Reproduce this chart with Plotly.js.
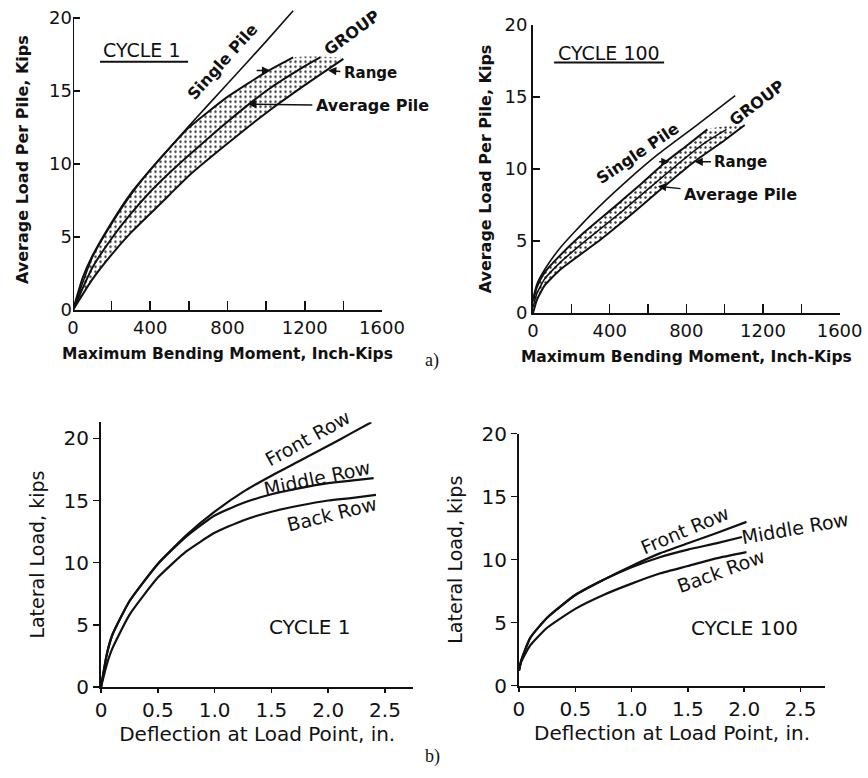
<!DOCTYPE html>
<html>
<head>
<meta charset="utf-8">
<script src="https://cdn.plot.ly/plotly-3.0.1.min.js"></script>
<style>html,body{margin:0;padding:0;background:#fff;}#chart{width:868px;height:778px;}</style>
</head>
<body>
<div id="chart"></div>
<script>
// ---------- Data: a) Maximum bending moment vs average load per pile ----------
// Cycle 1
var c1SingleX = [0, 100, 200, 300, 400, 500, 600, 800, 1000, 1140];
var c1SingleY = [0, 3.6, 5.9, 7.9, 9.6, 11.1, 12.6, 15.5, 18.4, 20.5];
var c1UpperX  = [0, 50, 100, 200, 300, 400, 500, 600, 800, 1000, 1140];
var c1UpperY  = [0, 2.2, 3.7, 6.0, 8.0, 9.6, 11.1, 12.5, 14.6, 16.3, 17.3];
var c1AvgX    = [0, 100, 200, 300, 400, 500, 600, 800, 1000, 1200, 1280];
var c1AvgY    = [0, 2.9, 4.9, 6.6, 8.1, 9.4, 10.6, 12.9, 15.0, 16.7, 17.3];
var c1LowerX  = [0, 100, 200, 300, 400, 500, 600, 800, 1000, 1200, 1400];
var c1LowerY  = [0, 2.1, 3.8, 5.3, 6.6, 7.9, 9.2, 11.4, 13.5, 15.4, 17.2];
// Cycle 100
var c100SingleX = [0, 20, 60, 140, 300, 500, 650, 850, 1055];
var c100SingleY = [1.0, 2.0, 3.0, 4.5, 6.8, 9.3, 11.0, 13.0, 15.1];
var c100UpperX  = [0, 20, 60, 141, 250, 419, 550, 698, 800, 910];
var c100UpperY  = [0.8, 1.8, 2.8, 4.0, 5.4, 7.3, 8.8, 10.55, 11.6, 12.75];
var c100AvgX    = [0, 20, 60, 141, 300, 450, 600, 770, 900, 1010];
var c100AvgY    = [0.4, 1.35, 2.35, 3.5, 5.3, 6.9, 8.6, 10.5, 11.85, 12.75];
var c100LowerX  = [0, 20, 60, 141, 353, 500, 650, 846, 1000, 1105];
var c100LowerY  = [0, 0.9, 1.9, 3.0, 5.1, 6.7, 8.4, 10.55, 12.0, 13.05];

// ---------- Data: b) Deflection at load point vs lateral load ----------
// Cycle 1
var d1FrontX  = [0, 0.05, 0.1, 0.25, 0.5, 0.75, 1.0, 1.25, 1.5, 1.75, 2.0, 2.2, 2.38];
var d1FrontY  = [0, 2.6, 4.2, 6.9, 9.9, 12.2, 14.1, 15.7, 17.0, 18.2, 19.4, 20.4, 21.3];
var d1MiddleX = [0, 0.05, 0.1, 0.25, 0.5, 0.75, 1.0, 1.25, 1.5, 1.75, 2.0, 2.2, 2.4];
var d1MiddleY = [0, 2.6, 4.2, 6.9, 9.9, 12.1, 13.8, 14.8, 15.5, 16.0, 16.4, 16.6, 16.8];
var d1BackX   = [0, 0.05, 0.1, 0.25, 0.5, 0.75, 1.0, 1.25, 1.5, 1.75, 2.0, 2.2, 2.42];
var d1BackY   = [0, 1.8, 3.1, 5.8, 8.8, 10.9, 12.4, 13.4, 14.1, 14.6, 15.0, 15.2, 15.45];
// Cycle 100
var d100FrontX  = [0, 0.02, 0.1, 0.25, 0.5, 0.75, 1.0, 1.25, 1.5, 1.75, 2.02];
var d100FrontY  = [1.2, 2.0, 3.8, 5.4, 7.2, 8.4, 9.5, 10.5, 11.3, 12.1, 13.0];
var d100MiddleX = [0, 0.02, 0.1, 0.25, 0.5, 0.75, 1.0, 1.25, 1.5, 1.75, 1.98];
var d100MiddleY = [1.2, 2.0, 3.8, 5.4, 7.2, 8.4, 9.4, 10.2, 10.8, 11.3, 11.8];
var d100BackX   = [0, 0.02, 0.1, 0.25, 0.5, 0.75, 1.0, 1.25, 1.5, 1.75, 2.02];
var d100BackY   = [1.2, 1.9, 3.2, 4.6, 6.1, 7.2, 8.1, 8.9, 9.5, 10.1, 10.6];

// ---------- Tick labels ----------
var momentTicks = [0, 400, 800, 1200, 1600];
var loadTicks = [0, 5, 10, 15, 20];
var deflTicks = [0, 0.5, 1, 1.5, 2, 2.5];
var deflTickText = ['0', '0.5', '1.0', '1.5', '2.0', '2.5'];

// ---------- Text ----------
var momentTitle = 'Maximum Bending Moment, Inch-Kips';
var loadPerPileTitle = 'Average Load Per Pile, Kips';
var deflTitle = 'Deflection at Load Point, in.';
var lateralTitle = 'Lateral Load, kips';

// ---------- Build traces ----------
var INK = '#111';
function band(ux, uy, lx, ly) {
  return {
    x: ux.concat(lx.slice().reverse()),
    y: uy.concat(ly.slice().reverse())
  };
}
function line(x, y, xa, ya, name, w) {
  return {x: x, y: y, xaxis: xa, yaxis: ya, type: 'scatter', mode: 'lines', name: name,
          line: {color: INK, width: w || 2, shape: 'spline', smoothing: 0.5}, hoverinfo: 'skip'};
}
function bandTrace(b, xa, ya) {
  return {x: b.x, y: b.y, xaxis: xa, yaxis: ya, type: 'scatter', mode: 'lines', fill: 'toself',
          name: 'Range', line: {width: 0, color: 'rgba(0,0,0,0)', shape: 'spline', smoothing: 0.5},
          fillcolor: 'rgba(0,0,0,0)',
          fillpattern: {shape: '.', size: 5, solidity: 0.18, fgcolor: '#333', bgcolor: 'rgba(255,255,255,0)'},
          hoverinfo: 'skip'};
}
var b1 = band(c1UpperX, c1UpperY, c1LowerX, c1LowerY);
var b100 = band(c100UpperX, c100UpperY, c100LowerX, c100LowerY);

var traces = [
  bandTrace(b1, 'x', 'y'),
  line(c1SingleX, c1SingleY, 'x', 'y', 'Single Pile', 1.6),
  line(c1UpperX, c1UpperY, 'x', 'y', 'Range upper', 2),
  line(c1AvgX, c1AvgY, 'x', 'y', 'Average Pile', 2),
  line(c1LowerX, c1LowerY, 'x', 'y', 'Range lower', 2),
  bandTrace(b100, 'x2', 'y2'),
  line(c100SingleX, c100SingleY, 'x2', 'y2', 'Single Pile', 1.6),
  line(c100UpperX, c100UpperY, 'x2', 'y2', 'Range upper', 2),
  line(c100AvgX, c100AvgY, 'x2', 'y2', 'Average Pile', 1.6),
  line(c100LowerX, c100LowerY, 'x2', 'y2', 'Range lower', 2),
  line(d1FrontX, d1FrontY, 'x3', 'y3', 'Front Row', 2.2),
  line(d1MiddleX, d1MiddleY, 'x3', 'y3', 'Middle Row', 2.2),
  line(d1BackX, d1BackY, 'x3', 'y3', 'Back Row', 2.2),
  line(d100FrontX, d100FrontY, 'x4', 'y4', 'Front Row', 2.2),
  line(d100MiddleX, d100MiddleY, 'x4', 'y4', 'Middle Row', 2.2),
  line(d100BackX, d100BackY, 'x4', 'y4', 'Back Row', 2.2)
];

// ---------- Layout ----------
var FONT = 'DejaVu Sans, Verdana, sans-serif';
function topX(dom) {
  return {domain: dom, range: [0, 1600], tickmode: 'array', tickvals: momentTicks,
          ticks: 'inside', ticklen: 9, tickwidth: 1.5, tickcolor: INK,
          minor: {dtick: 200, tick0: 0, ticks: 'inside', ticklen: 9, tickwidth: 1.5, tickcolor: INK, showgrid: false},
          showline: true, linewidth: 2, linecolor: INK, showgrid: false, zeroline: false,
          tickfont: {family: FONT, size: 18, color: INK},
          title: {text: '<b>' + momentTitle + '</b>', font: {family: FONT, size: 15.5, color: INK}, standoff: 12}};
}
function topY(dom, rng, line, standoff) {
  return {domain: dom, range: rng, tickmode: 'array', tickvals: loadTicks,
          ticks: 'inside', ticklen: 7, tickwidth: 1.5, tickcolor: INK,
          showline: line, linewidth: 2, linecolor: INK, showgrid: false, zeroline: false,
          tickfont: {family: FONT, size: 18, color: INK},
          title: {text: '<b>' + loadPerPileTitle + '</b>', font: {family: FONT, size: 16, color: INK}, standoff: standoff}};
}
function botX(dom, rng) {
  return {domain: dom, range: rng, tickmode: 'array', tickvals: deflTicks, ticktext: deflTickText,
          ticks: 'outside', ticklen: 4, tickwidth: 1.5, tickcolor: INK,
          showline: true, linewidth: 2, linecolor: INK, showgrid: false, zeroline: false,
          tickfont: {family: FONT, size: 20, color: INK},
          title: {text: deflTitle, font: {family: FONT, size: 20, color: INK}, standoff: 6}};
}
function botY(dom, rng) {
  return {domain: dom, range: rng, tickmode: 'array', tickvals: loadTicks,
          ticks: 'outside', ticklen: 6, tickwidth: 1.5, tickcolor: INK,
          showline: true, linewidth: 2, linecolor: INK, showgrid: false, zeroline: false,
          tickfont: {family: FONT, size: 20, color: INK},
          title: {text: lateralTitle, font: {family: FONT, size: 19, color: INK}, standoff: 14}};
}

function lbl(xa, ya, x, y, text, size, angle, bold) {
  return {xref: xa, yref: ya, x: x, y: y, text: bold ? '<b>' + text + '</b>' : text, showarrow: false,
          textangle: angle || 0, font: {family: FONT, size: size, color: INK}};
}
function arr(xa, ya, x, y, ax, ay, text, size) {
  return {xref: xa, yref: ya, x: x, y: y, axref: xa, ayref: ya, ax: ax, ay: ay,
          text: text ? '<b>' + text + '</b>' : '', showarrow: true, arrowhead: 2, arrowsize: 1.1,
          arrowwidth: 1.5, arrowcolor: INK, standoff: 0, startstandoff: 2,
          font: {family: FONT, size: size || 15, color: INK}};
}

var annotations = [
  // a) Cycle 1
  lbl('x', 'y', 357, 17.8, 'CYCLE 1', 19, 0, false),
  lbl('x', 'y', 775, 17.0, 'Single Pile', 16, -48, true),
  lbl('x', 'y', 1446, 19.0, 'GROUP', 16, -36, true),
  arr('x', 'y', 1321, 16.4, 1540, 16.2, 'Range', 15),
  arr('x', 'y', 1021, 16.4, 933, 16.4, '', 15),
  arr('x', 'y', 907, 14.1, 1550, 14.0, 'Average Pile', 16),
  // a) Cycle 100
  lbl('x2', 'y2', 397, 18.05, 'CYCLE 100', 19, 0, false),
  lbl('x2', 'y2', 544, 11.1, 'Single Pile', 16, -34, true),
  lbl('x2', 'y2', 1171, 14.6, 'GROUP', 16, -37, true),
  arr('x2', 'y2', 843, 10.5, 1085, 10.5, 'Range', 15),
  arr('x2', 'y2', 712, 10.5, 640, 10.5, '', 15),
  arr('x2', 'y2', 652, 8.8, 1083, 8.2, 'Average Pile', 16),
  // b) Cycle 1
  lbl('x3', 'y3', 1.82, 20.0, 'Front Row', 19, -29, false),
  lbl('x3', 'y3', 1.90, 16.8, 'Middle Row', 19, -12, false),
  lbl('x3', 'y3', 2.03, 13.9, 'Back Row', 19, -14, false),
  lbl('x3', 'y3', 1.84, 4.85, 'CYCLE 1', 20, 0, false),
  // b) Cycle 100
  lbl('x4', 'y4', 1.47, 12.35, 'Front Row', 19, -23, false),
  lbl('x4', 'y4', 2.45, 12.5, 'Middle Row', 19, -10, false),
  lbl('x4', 'y4', 1.79, 9.1, 'Back Row', 19, -20, false),
  lbl('x4', 'y4', 2.0, 4.6, 'CYCLE 100', 20, 0, false),
  // panel labels
  {xref: 'paper', yref: 'paper', x: 0.4977, y: 0.537, text: 'a)', showarrow: false,
   font: {family: 'Liberation Serif, Times New Roman, serif', size: 18, color: INK}},
  {xref: 'paper', yref: 'paper', x: 0.4977, y: 0.011, text: 'b)', showarrow: false,
   font: {family: 'Liberation Serif, Times New Roman, serif', size: 18, color: INK}}
];

var shapes = [
  // y-axis line of the Cycle 1 moment plot (stops at 20 while the Single Pile line runs above it)
  {type: 'line', xref: 'x', yref: 'y', x0: 0, x1: 0, y0: 0, y1: 20, line: {color: INK, width: 2}},
  // underlines of the cycle titles
  {type: 'line', xref: 'x', yref: 'y', x0: 140, x1: 596, y0: 17.0, y1: 17.0, line: {color: INK, width: 2}},
  {type: 'line', xref: 'x2', yref: 'y2', x0: 110, x1: 684, y0: 17.4, y1: 17.4, line: {color: INK, width: 2}}
];

var layout = {
  width: 868, height: 778, autosize: false,
  margin: {l: 0, r: 0, t: 0, b: 0},
  paper_bgcolor: '#fff', plot_bgcolor: 'rgba(0,0,0,0)',
  showlegend: false,
  font: {family: FONT, color: INK},
  xaxis: topX([0.0841, 0.4401]),
  yaxis: topY([0.6015, 0.9881], [0, 20.6], false, 16),
  xaxis2: topX([0.6141, 0.9673]),
  yaxis2: topY([0.5977, 0.9679], [0, 20], true, 9),
  xaxis3: botX([0.1164, 0.4763], [0, 2.75]),
  yaxis3: botY([0.1170, 0.4573], [0, 21.3]),
  xaxis4: botX([0.5979, 0.9508], [0, 2.72]),
  yaxis4: botY([0.1186, 0.4426], [0, 20]),
  annotations: annotations,
  shapes: shapes
};
layout.yaxis.anchor = 'x'; layout.xaxis.anchor = 'y';
layout.xaxis2.anchor = 'y2'; layout.yaxis2.anchor = 'x2';
layout.xaxis3.anchor = 'y3'; layout.yaxis3.anchor = 'x3';
layout.xaxis4.anchor = 'y4'; layout.yaxis4.anchor = 'x4';

Plotly.newPlot('chart', traces, layout, {displayModeBar: false, staticPlot: true});
</script>
</body>
</html>
